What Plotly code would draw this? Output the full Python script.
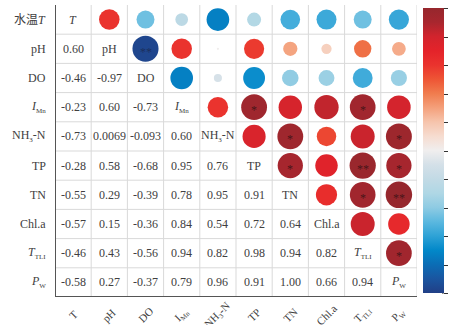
import math
import plotly.graph_objects as go

SUB = "<sub><span style='font-size:7px'>{}</span></sub>"

# Variable names (row/diagonal labels and bottom labels)
row_labels = ["水温<i>T</i>", "pH", "DO", "<i>I</i>" + SUB.format("Mn"), "NH" + SUB.format("3") + "-N",
              "TP", "TN", "Chl.a", "<i>T</i>" + SUB.format("TLI"), "<i>P</i>" + SUB.format("W")]
diag_labels = ["<i>T</i>", "pH", "DO", "<i>I</i>" + SUB.format("Mn"), "NH" + SUB.format("3") + "-N",
               "TP", "TN", "Chl.a", "<i>T</i>" + SUB.format("TLI"), "<i>P</i>" + SUB.format("W")]
bottom_labels = ["T", "pH", "DO", "I" + SUB.format("Mn"), "NH" + SUB.format("3") + "-N", "TP", "TN",
                 "Chl.a", "T" + SUB.format("TLI"), "P" + SUB.format("W")]

# Pearson correlation of each variable with all variables (same order as labels)
r_T    = [1, 0.60, -0.46, -0.23, -0.73, -0.28, -0.55, -0.57, -0.46, -0.58]
r_pH   = [0.60, 1, -0.97, 0.60, 0.0069, 0.58, 0.29, 0.15, 0.43, 0.27]
r_DO   = [-0.46, -0.97, 1, -0.73, -0.093, -0.68, -0.39, -0.36, -0.56, -0.37]
r_IMn  = [-0.23, 0.60, -0.73, 1, 0.60, 0.95, 0.78, 0.84, 0.94, 0.79]
r_NH3  = [-0.73, 0.0069, -0.093, 0.60, 1, 0.76, 0.95, 0.54, 0.82, 0.96]
r_TP   = [-0.28, 0.58, -0.68, 0.95, 0.76, 1, 0.91, 0.72, 0.98, 0.91]
r_TN   = [-0.55, 0.29, -0.39, 0.78, 0.95, 0.91, 1, 0.64, 0.94, 1.00]
r_Chl  = [-0.57, 0.15, -0.36, 0.84, 0.54, 0.72, 0.64, 1, 0.82, 0.66]
r_TTLI = [-0.46, 0.43, -0.56, 0.94, 0.82, 0.98, 0.94, 0.82, 1, 0.94]
r_Pw   = [-0.58, 0.27, -0.37, 0.79, 0.96, 0.91, 1.00, 0.66, 0.94, 1]
corr_rows = [r_T, r_pH, r_DO, r_IMn, r_NH3, r_TP, r_TN, r_Chl, r_TTLI, r_Pw]

# Significance marks (row, column) in the upper triangle
sig_rows = [1, 3, 3, 4, 4, 5, 5, 5, 6, 6, 8]
sig_cols = [2, 5, 8, 6, 9, 6, 8, 9, 8, 9, 9]
sig_marks = ["**", "*", "*", "*", "*", "*", "**", "*", "*", "**", "*"]

colorscale = [
    [0.00, "#213f86"], [0.05, "#1a55a0"], [0.10, "#0b6db5"], [0.15, "#0288c9"],
    [0.20, "#2ea2d6"], [0.25, "#5bb8df"], [0.30, "#8ecbe3"], [0.35, "#afd7e5"],
    [0.40, "#c2dae5"], [0.45, "#d4e0e8"], [0.50, "#f0eeee"], [0.55, "#f6dcd0"],
    [0.60, "#f6c4ac"], [0.65, "#f4a07b"], [0.70, "#f07c4e"], [0.75, "#ee5535"],
    [0.80, "#ea332e"], [0.85, "#e4232a"], [0.90, "#d2242d"], [0.95, "#a8262e"],
    [1.00, "#96272d"],
]

n = len(row_labels)
FONT = "Liberation Serif, Noto Sans CJK SC, serif"
TXT = "#404040"

# Upper-triangle circles
cx, cy, cval, csize = [], [], [], []
for i in range(n):
    for j in range(i + 1, n):
        v = corr_rows[i][j]
        cx.append(j)
        cy.append(i)
        cval.append(v)
        csize.append(26.5 * math.sqrt(abs(v)))

fig = go.Figure()
fig.add_trace(go.Scatter(
    x=cx, y=cy, mode="markers", hoverinfo="skip",
    marker=dict(
        size=csize, color=cval, colorscale=colorscale, cmin=-1, cmax=1,
        line=dict(width=0), opacity=1,
        colorbar=dict(
            thickness=21, thicknessmode="pixels", len=285, lenmode="pixels",
            x=1.0138, xanchor="left", xpad=0, y=0.5, yanchor="middle", ypad=0,
            tickmode="array", tickvals=[-1 + 0.2 * k for k in range(11)],
            ticks="outside", ticklen=4, tickwidth=1, tickcolor="#333333",
            showticklabels=False, outlinewidth=0,
        ),
    ),
    showlegend=False,
))

annotations = []
# Lower-triangle values
for i in range(n):
    for j in range(i):
        v = corr_rows[i][j]
        s = f"{v:.2f}" if abs(v) >= 0.1 else f"{v:.2g}"
        annotations.append(dict(x=j, y=i, xref="x", yref="y", text=s, showarrow=False,
                                font=dict(family=FONT, size=12, color=TXT)))
# Diagonal labels
for i in range(n):
    annotations.append(dict(x=i, y=i, xref="x", yref="y", text=diag_labels[i], showarrow=False,
                            font=dict(family=FONT, size=12, color=TXT)))
# Row labels on the left
for i in range(n):
    annotations.append(dict(x=0, y=i, xref="paper", yref="y", text=row_labels[i], showarrow=False,
                            xanchor="right", xshift=-7,
                            font=dict(family=FONT, size=12, color=TXT)))
# Rotated labels under the matrix
for j in range(n):
    annotations.append(dict(x=j, y=-0.062, xref="x", yref="paper", text=bottom_labels[j],
                            showarrow=False, textangle=-45, yanchor="middle", xanchor="center",
                            font=dict(family=FONT, size=11, color=TXT)))
# Significance marks
for r, c, m in zip(sig_rows, sig_cols, sig_marks):
    col = "#1b2f5e" if corr_rows[r][c] < 0 else "#4a1519"
    annotations.append(dict(x=c, y=r, xref="x", yref="y", text=m, showarrow=False,
                            yshift=-3, font=dict(family=FONT, size=12, color=col)))

shapes = []
grid = dict(color="#d9d9d9", width=1)
for k in range(1, n + 1):
    shapes.append(dict(type="line", xref="x", yref="y", x0=k - 0.5, x1=k - 0.5,
                       y0=-0.5, y1=n - 0.5, line=grid, layer="below"))
for k in range(1, n):
    shapes.append(dict(type="line", xref="x", yref="y", x0=-0.5, x1=n - 0.5,
                       y0=k - 0.5, y1=k - 0.5, line=grid, layer="below"))
axis_line = dict(color="#555555", width=2)
shapes.append(dict(type="line", xref="x", yref="y", x0=-0.5, x1=-0.5, y0=-0.5, y1=n - 0.5,
                   line=axis_line))
shapes.append(dict(type="line", xref="x", yref="y", x0=-0.5, x1=n - 0.5, y0=n - 0.5, y1=n - 0.5,
                   line=axis_line))
# Right edge line of the colour bar
shapes.append(dict(type="line", xref="paper", yref="paper", x0=1.0716, x1=1.0716,
                   y0=(297 - 294) / 292, y1=(297 - 9) / 292,
                   line=dict(color="#333333", width=1)))

fig.update_layout(
    width=452, height=325,
    margin=dict(l=55, r=34, t=5, b=28),
    paper_bgcolor="white", plot_bgcolor="white",
    xaxis=dict(range=[-0.5, n - 0.5], showgrid=False, zeroline=False, showticklabels=False,
               fixedrange=True),
    yaxis=dict(range=[n - 0.5, -0.5], showgrid=False, zeroline=False, showticklabels=False,
               fixedrange=True),
    annotations=annotations,
    shapes=shapes,
)

fig.write_html("out.html")
